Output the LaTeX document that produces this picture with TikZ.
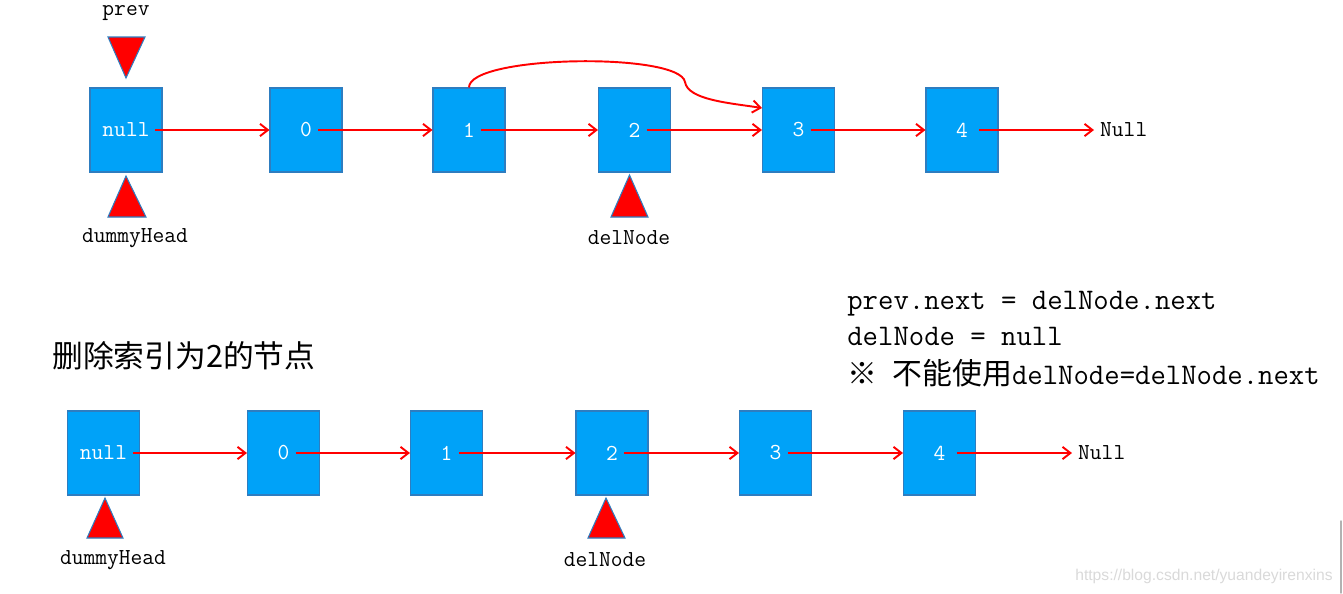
\documentclass[tikz,border=0pt]{standalone}
\usepackage{fontspec}
\newfontfamily\cjk{Noto Sans CJK SC}
\newfontfamily\wmfont{Liberation Sans}
\usetikzlibrary{arrows.meta,calc,positioning}
\definecolor{cellfill}{HTML}{00A2F8}
\definecolor{celledge}{HTML}{2E7DC0}
\definecolor{ptrred}{HTML}{FF0000}
\tikzset{
  cell/.style={draw=celledge, fill=cellfill, line width=0.6pt, minimum width=1.44cm, minimum height=1.68cm, inner sep=0pt, text=white, font=\ttfamily\fontsize{13}{13}\selectfont},
  link/.style={ptrred, line width=1.1pt, -{Straight Barb[length=4.5pt,width=7pt]}},
  marker/.style={fill=ptrred, draw=celledge, line width=0.6pt, line join=miter},
  lbl/.style={font=\ttfamily\fontsize{13}{13}\selectfont},
  code/.style={anchor=base west, inner sep=0pt, font=\ttfamily\fontsize{17}{17}\selectfont},
}
\begin{document}
\begin{tikzpicture}[x=0.02cm, y=-0.02cm]
 \useasboundingbox (0,0) rectangle (1343,593);
 % before: prev points at the dummy head
 \node[cell] (tn) at (126,130) {null};
 \node[cell] (t0) at (306,130) {0};
 \node[cell] (t1) at (469,130) {1};
 \node[cell] (t2) at (634.5,130) {2};
 \node[cell] (t3) at (798.5,130) {3};
 \node[cell] (t4) at (962,130) {4};
 \node[lbl, anchor=west] (tnull) at (1094,130) {Null};
 \draw[link] ($(tn)+(29,0)$) -- (t0.west);
 \foreach \a/\b in {t0/t1,t1/t2,t2/t3,t3/t4}
   \draw[link] ($(\a)+(12,0)$) -- (\b.west);
 \draw[link] ($(t4)+(17,0)$) -- (tnull.west);
 \draw[link] (t1.north) .. controls (469,55) and (680,52) .. (685,82)
   .. controls (688,100) and (730,103) .. ($(t3.west)+(0,-22)$);
 \draw[marker] (108,37) -- (145,37) -- (126,78) -- cycle;
 \node[lbl] (prev) at (126,13) {prev};
 \draw[marker] (126,176) -- (146,217) -- (108,217) -- cycle;
 \node[lbl] (thead) at (135,238) {dummyHead};
 \draw[marker] (629.5,175) -- (648,217) -- (611,217) -- cycle;
 \node[lbl] (tdel) at (629,238) {delNode};

 \node[anchor=west, inner sep=0pt, font=\cjk\fontsize{17.5}{17.5}\selectfont] (title) at (52,356) {删除索引为2的节点};
 \node[code] (c1) at (847,309) {prev.next = delNode.next};
 \node[code] (c2) at (847,345) {delNode = null};
 \node[code] (c3) at (847,384) {{\cjk ※} {\cjk 不能使用}delNode=delNode.next};

 % after: the node with index 2 is removed
 \node[cell] (bn) at (103.5,453) {null};
 \node[cell] (b0) at (283.5,453) {0};
 \node[cell] (b1) at (446.5,453) {1};
 \node[cell] (b2) at (612,453) {2};
 \node[cell] (b3) at (775.5,453) {3};
 \node[cell] (b4) at (939.5,453) {4};
 \node[lbl, anchor=west] (bnull) at (1072,453) {Null};
 \draw[link] ($(bn)+(29,0)$) -- (b0.west);
 \foreach \a/\b in {b0/b1,b1/b2,b2/b3,b3/b4}
   \draw[link] ($(\a)+(12,0)$) -- (\b.west);
 \draw[link] ($(b4)+(17,0)$) -- (bnull.west);
 \draw[marker] (105,498) -- (123,538) -- (87,538) -- cycle;
 \node[lbl] (bhead) at (113,560) {dummyHead};
 \draw[marker] (606,498) -- (625,538) -- (588,538) -- cycle;
 \node[lbl] (bdel) at (605,560) {delNode};

 \node[anchor=east, inner sep=0pt, text=gray!30, font=\wmfont\fontsize{8.9}{8.9}\selectfont] (mark) at (1333,576) {https://blog.csdn.net/yuandeyirenxins};
 \draw[gray!60, line width=0.8pt, line cap=round] (1341,521) -- (1341,593);
\end{tikzpicture}
\end{document}
